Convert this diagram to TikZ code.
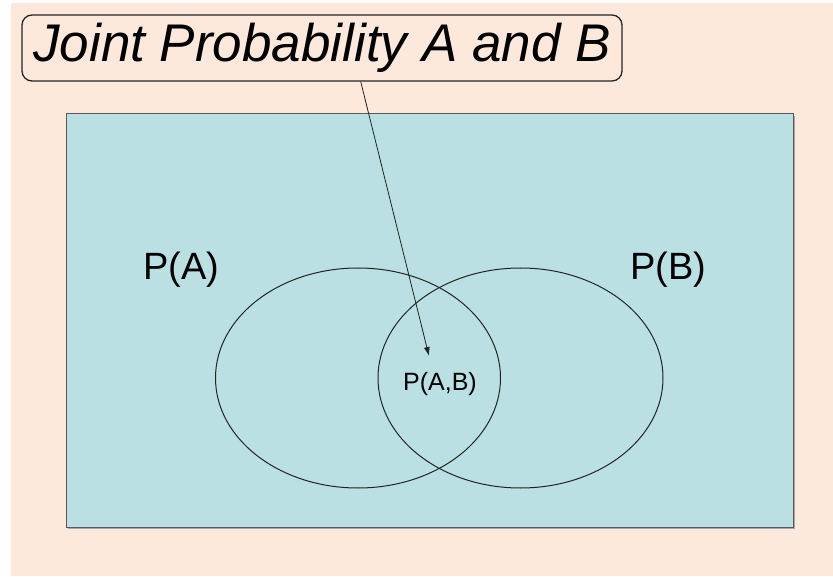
\documentclass[tikz,border=0pt]{standalone}
\usepackage{fontspec}
\setmainfont{Liberation Sans}
\usepackage{tikz}
\usetikzlibrary{
  shapes.geometric,
  arrows.meta,
  positioning
}
\definecolor{pagecolor}{RGB}{253, 233, 220}
\definecolor{framecolor}{RGB}{186, 224, 227}
\definecolor{linecolor}{RGB}{35, 35, 35}
\tikzset{
titlebox/.style={
  draw=linecolor,
  line width=1.3pt,
  rounded corners=10pt,
  fill=pagecolor,
  minimum width=600pt,
  minimum height=66pt,
  inner sep=0pt,
  font=\fontsize{53}{60}\selectfont\itshape
},
framebox/.style={
  draw=black!65,
  line width=1pt,
  fill=framecolor,
  minimum width=727pt,
  minimum height=413pt,
  inner sep=0pt
},
setshape/.style={
  draw=linecolor,
  ellipse,
  line width=1pt,
  minimum width=285pt,
  minimum height=220pt,
  inner sep=0pt
},
setlabel/.style={
  font=\fontsize{38}{42}\selectfont,
  inner sep=0pt
},
jointlabel/.style={
  font=\fontsize{25}{28}\selectfont,
  inner sep=0pt
},
arrow/.style={
  -{Latex[length=9pt,width=6pt]},
  line width=0.8pt,
  draw=linecolor
}
}

\begin{document}
\begin{tikzpicture}[x=1pt, y=-1pt]
  \useasboundingbox (0, 0) rectangle (833, 577);
  \fill[pagecolor] (11, 3) rectangle (833, 576);

  % --- frame and sets ---
  \fill[black!35] (68, 116) rectangle (795, 529);
  \node[framebox] (frame) at (429.5, 320.5) {};
  \node[setshape] (setA) at (358, 378) {};
  \node[setshape] (setB) at (520.5, 378) {};

  % --- labels ---
  \node[setlabel] (labelA) at (181, 270) {P(A)};
  \node[setlabel] (labelB) at (668, 270) {P(B)};
  \node[jointlabel] (labelAB) at (440, 384) {P(A,B)};

  % --- title ---
  \node[titlebox] (title) at (322, 48) {Joint Probability A and B};
  \coordinate (tip) at (429, 356);
  \draw[arrow] (title.-41) -- (tip);
\end{tikzpicture}
\end{document}
